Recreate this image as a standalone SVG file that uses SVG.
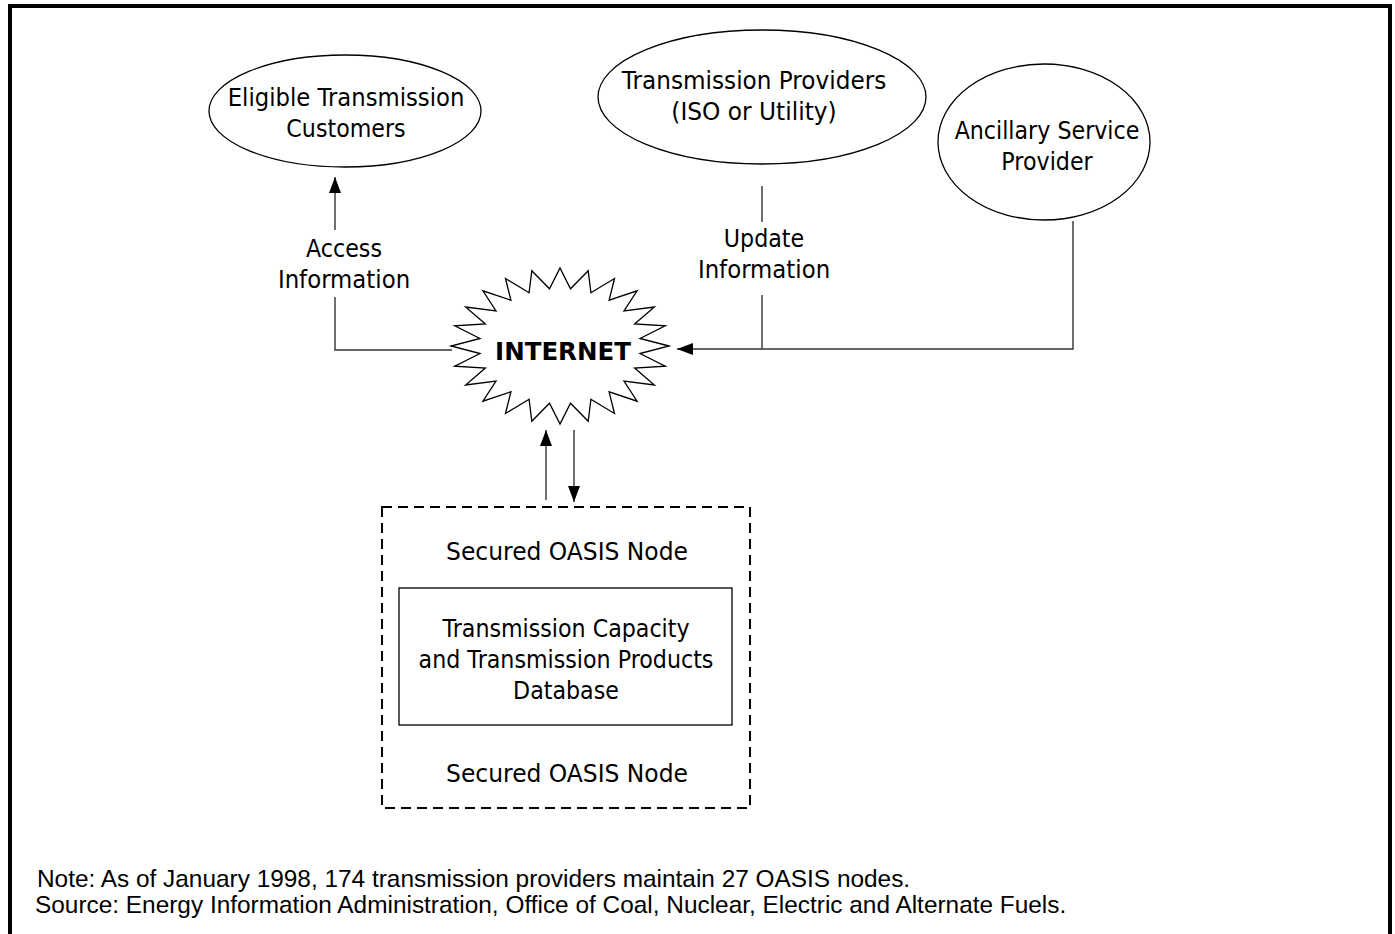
<svg xmlns="http://www.w3.org/2000/svg" width="1395" height="934" viewBox="0 0 1395 934">
  <style>
    .lbl { font-family: "DejaVu Sans", Verdana, sans-serif; font-size: 25.5px; fill: #000; text-anchor: middle; }
    .bold { font-family: "DejaVu Sans", Verdana, sans-serif; font-weight: bold; font-size: 24.5px; fill: #000; text-anchor: middle; }
    .note { font-family: "Liberation Sans", Arial, sans-serif; font-size: 24.4px; fill: #000; }
    .shape { fill: #fff; stroke: #000; stroke-width: 1.3; }
    .wire { fill: none; stroke: #333; stroke-width: 1.4; }
  </style>
  <defs>
    <marker id="arr" markerUnits="userSpaceOnUse" markerWidth="16" markerHeight="12" refX="16" refY="6" orient="auto">
      <path d="M0,0 L16,6 L0,12 z" fill="#000"/>
    </marker>
  </defs>

  <rect width="1395" height="934" fill="#fff"/>
  <!-- outer frame, bottom edge runs past the page -->
  <rect x="10" y="6" width="1380" height="960" fill="none" stroke="#000" stroke-width="4"/>

  <g id="connectors">
    <line class="wire" x1="335" y1="230" x2="335" y2="177" marker-end="url(#arr)"/>
    <path class="wire" d="M335 297 V350 H452"/>
    <line class="wire" x1="762" y1="186" x2="762" y2="222"/>
    <line class="wire" x1="762" y1="295" x2="762" y2="349"/>
    <path class="wire" d="M1073 221 V349 H677" marker-end="url(#arr)"/>
    <line class="wire" x1="546" y1="500" x2="546" y2="430" marker-end="url(#arr)"/>
    <line class="wire" x1="574" y1="430" x2="574" y2="502" marker-end="url(#arr)"/>
    <text class="lbl" transform="translate(344 257) scale(0.87 1)"><tspan x="0" y="0">Access</tspan><tspan x="0" y="31" textLength="152" lengthAdjust="spacingAndGlyphs">Information</tspan></text>
    <text class="lbl" transform="translate(764 247) scale(0.87 1)"><tspan x="0" y="0">Update</tspan><tspan x="0" y="31" textLength="152" lengthAdjust="spacingAndGlyphs">Information</tspan></text>
  </g>

  <g id="customers">
    <ellipse class="shape" cx="345" cy="111" rx="136" ry="56"/>
    <text class="lbl" transform="translate(346 106) scale(0.87 1)"><tspan x="0" y="0" textLength="272" lengthAdjust="spacingAndGlyphs">Eligible Transmission</tspan><tspan x="0" y="31">Customers</tspan></text>
  </g>

  <g id="providers">
    <ellipse class="shape" cx="762" cy="97" rx="164" ry="67"/>
    <text class="lbl" transform="translate(754 89) scale(0.87 1)"><tspan x="0" y="0" textLength="304" lengthAdjust="spacingAndGlyphs">Transmission Providers</tspan><tspan x="0" y="31" textLength="190" lengthAdjust="spacingAndGlyphs">(ISO or Utility)</tspan></text>
  </g>

  <g id="ancillary">
    <ellipse class="shape" cx="1044" cy="142" rx="106" ry="78"/>
    <text class="lbl" transform="translate(1047 139) scale(0.87 1)"><tspan x="0" y="0">Ancillary Service</tspan><tspan x="0" y="31">Provider</tspan></text>
  </g>

  <g id="internet">
    <polygon class="shape" points="669,346 640,338.5 665.3,325.8 634.6,323.9 654.4,307 624,310.9 637.1,290.8 609.1,300.2 614.5,278.5 590.9,292.7 588.2,270.7 570.5,288.8 560,268 549.5,288.8 531.8,270.7 529.1,292.7 505.5,278.5 510.9,300.2 482.9,290.8 496,310.9 465.6,307 485.4,323.9 454.7,325.8 480,338.5 451,346 480,353.5 454.7,366.2 485.4,368.1 465.6,385 496,381.1 482.9,401.2 510.9,391.8 505.5,413.5 529.1,399.3 531.8,421.3 549.5,403.2 560,424 570.5,403.2 588.2,421.3 590.9,399.3 614.5,413.5 609.1,391.8 637.1,401.2 624,381.1 654.4,385 634.6,368.1 665.3,366.2 640,353.5"/>
    <text class="bold" x="563" y="360">INTERNET</text>
  </g>

  <g id="oasis-node">
    <rect x="382" y="507" width="368" height="301" fill="none" stroke="#000" stroke-width="2" stroke-dasharray="10 6"/>
    <text class="lbl" transform="translate(567 560) scale(0.87 1)" textLength="278" lengthAdjust="spacingAndGlyphs">Secured OASIS Node</text>
    <text class="lbl" transform="translate(567 782) scale(0.87 1)" textLength="278" lengthAdjust="spacingAndGlyphs">Secured OASIS Node</text>
  </g>

  <g id="database">
    <rect class="shape" x="399" y="588" width="333" height="137"/>
    <text class="lbl" transform="translate(566 637) scale(0.87 1)"><tspan x="0" y="0">Transmission Capacity</tspan><tspan x="0" y="31">and Transmission Products</tspan><tspan x="0" y="62">Database</tspan></text>
  </g>

  <g id="footnotes">
    <text class="note" x="37" y="887">Note: As of January 1998, 174 transmission providers maintain 27 OASIS nodes.</text>
    <text class="note" x="35" y="913">Source: Energy Information Administration, Office of Coal, Nuclear, Electric and Alternate Fuels.</text>
  </g>
</svg>
